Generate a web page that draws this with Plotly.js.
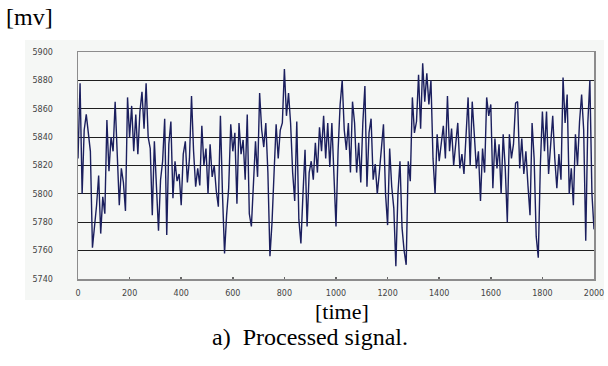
<!DOCTYPE html>
<html>
<head>
<meta charset="utf-8">
<script src="https://cdn.plot.ly/plotly-3.0.1.min.js"></script>
<style>html,body{margin:0;padding:0;background:#fff;}#chart{width:608px;height:366px;}</style>
</head>
<body>
<div id="chart"></div>
<script>
// Sampling step of the readings (time units between read samples)
const sampleStep = 8;

// Signal values [mv], one every 8 time units from 0 to 2000
const signalMv = [
  5825, 5878, 5800, 5845, 5856, 5842, 5830, 5762, 5776, 5792,
  5813, 5772, 5798, 5786, 5852, 5816, 5840, 5830, 5865, 5826,
  5792, 5818, 5808, 5788, 5868, 5840, 5862, 5830, 5856, 5828,
  5858, 5872, 5846, 5878, 5840, 5832, 5785, 5837, 5800, 5774,
  5810, 5823, 5853, 5771, 5835, 5851, 5797, 5823, 5809, 5814,
  5792, 5828, 5837, 5808, 5825, 5869, 5830, 5805, 5818, 5806,
  5848, 5820, 5832, 5800, 5835, 5812, 5820, 5802, 5791, 5855,
  5800, 5758, 5785, 5804, 5849, 5830, 5843, 5793, 5850, 5828,
  5838, 5810, 5856, 5786, 5777, 5805, 5837, 5812, 5871, 5845,
  5833, 5850, 5815, 5756, 5780, 5815, 5849, 5825, 5845, 5850,
  5888, 5855, 5871, 5850, 5815, 5795, 5851, 5782, 5765, 5800,
  5831, 5777, 5815, 5823, 5810, 5836, 5815, 5847, 5830, 5855,
  5825, 5850, 5819, 5850, 5812, 5777, 5830, 5863, 5880, 5845,
  5831, 5850, 5815, 5865, 5850, 5815, 5836, 5808, 5850, 5876,
  5805, 5843, 5853, 5810, 5821, 5800, 5815, 5830, 5849, 5800,
  5778, 5832, 5805, 5790, 5749, 5800, 5823, 5776, 5760, 5750,
  5823, 5809, 5868, 5843, 5851, 5884, 5846, 5892, 5865, 5885,
  5863, 5880, 5825, 5800, 5842, 5823, 5835, 5848, 5825, 5869,
  5830, 5846, 5820, 5836, 5850, 5818, 5828, 5814, 5840, 5868,
  5820, 5865, 5842, 5818, 5830, 5795, 5832, 5815, 5868, 5855,
  5863, 5804, 5839, 5818, 5835, 5800, 5842, 5818, 5780, 5842,
  5825, 5835, 5864, 5865, 5818, 5839, 5814, 5830, 5806, 5785,
  5850, 5825, 5770, 5755, 5820, 5858, 5830, 5858, 5814, 5832,
  5855, 5825, 5804, 5828, 5810, 5882, 5850, 5870, 5800, 5818,
  5792, 5842, 5820, 5851, 5870, 5845, 5767, 5850, 5880, 5800,
  5775
];

// Axis ticks
const yTicks = [5740, 5760, 5780, 5800, 5820, 5840, 5860, 5880, 5900];
const xTicks = [0, 200, 400, 600, 800, 1000, 1200, 1400, 1600, 1800, 2000];

// Texts
const yUnitLabel = '[mv]';
const xUnitLabel = '[time]';
const captionText = 'a)  Processed signal.';

const timeValues = signalMv.map((_, i) => i * sampleStep);

const trace = {
  x: timeValues,
  y: signalMv,
  type: 'scatter',
  mode: 'lines',
  line: {color: '#1b1f5e', width: 1.4},
  hoverinfo: 'skip'
};

const tickFont = {family: 'DejaVu Sans', size: 8, color: '#444'};
const serif = 'Liberation Serif, Times New Roman, serif';

// helpers to place texts in paper units from pixel positions
const L = 78, R = 14, T = 52, B = 87, W = 608, H = 366;
const pw = W - L - R, ph = H - T - B;
const px = v => (v - L) / pw;
const py = v => (H - B - v) / ph;

const layout = {
  width: W, height: H,
  margin: {l: L, r: R, t: T, b: B, pad: 0},
  paper_bgcolor: '#ffffff',
  plot_bgcolor: '#ffffff',
  showlegend: false,
  xaxis: {
    range: [0, 2000],
    tickvals: xTicks,
    ticktext: xTicks.map(String),
    ticks: 'inside', ticklen: 2, tickwidth: 1.5, tickcolor: '#666',
    ticklabelstandoff: 6,
    tickfont: tickFont,
    showgrid: false, zeroline: false,
    showline: true, mirror: true, linecolor: '#8c8c8c', linewidth: 1.5
  },
  yaxis: {
    range: [5740, 5900],
    tickvals: yTicks,
    ticktext: yTicks.map(String),
    ticks: '',
    ticklabelstandoff: 22,
    tickfont: tickFont,
    showgrid: true, gridcolor: '#1e1e1e', gridwidth: 1,
    zeroline: false,
    showline: true, mirror: true, linecolor: '#8c8c8c', linewidth: 1.5
  },
  shapes: [{
    type: 'rect', xref: 'paper', yref: 'paper', layer: 'below',
    x0: px(25), x1: px(604), y0: py(300), y1: py(40),
    fillcolor: '#f5f7f5', line: {width: 0}
  }],
  annotations: [
    {text: yUnitLabel, xref: 'paper', yref: 'paper', x: px(4), y: py(17),
     xanchor: 'left', yanchor: 'middle', showarrow: false,
     font: {family: serif, size: 24, color: '#000'}},
    {text: xUnitLabel, xref: 'paper', yref: 'paper', x: px(342), y: py(311),
     xanchor: 'center', yanchor: 'middle', showarrow: false,
     font: {family: serif, size: 22, color: '#000'}},
    {text: captionText, xref: 'paper', yref: 'paper', x: px(310), y: py(337),
     xanchor: 'center', yanchor: 'middle', showarrow: false,
     font: {family: serif, size: 24, color: '#000'}}
  ]
};

Plotly.newPlot('chart', [trace], layout, {staticPlot: true, displayModeBar: false});
</script>
</body>
</html>
